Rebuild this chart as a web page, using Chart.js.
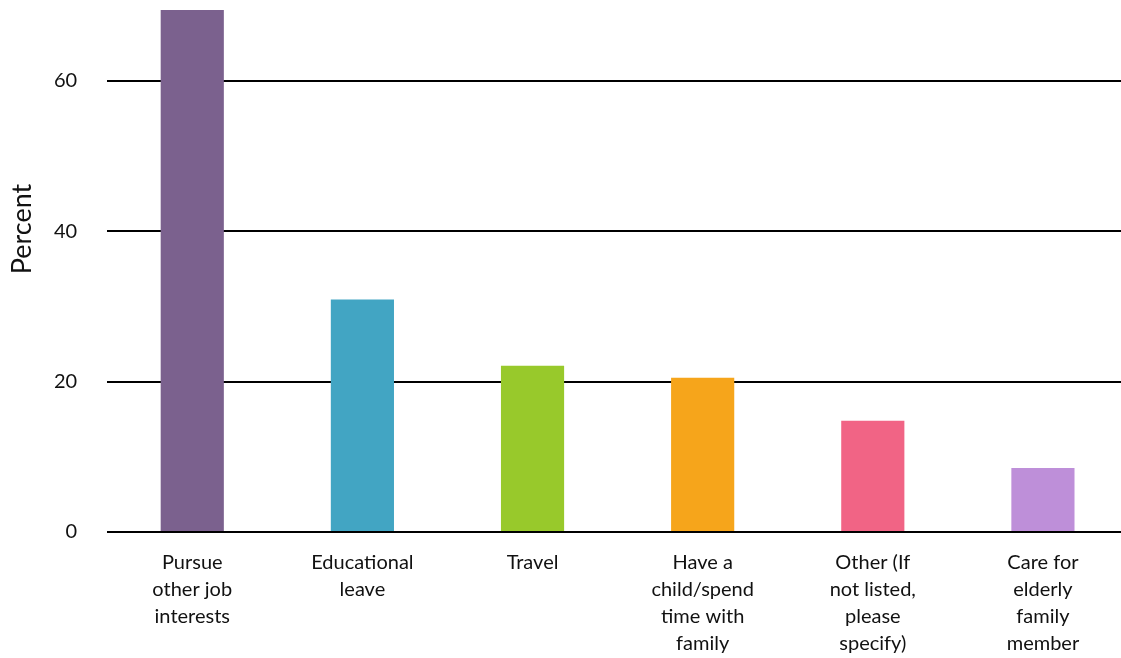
<!DOCTYPE html>
<html>
<head>
<meta charset="utf-8">
<script src="https://cdn.jsdelivr.net/npm/chart.js@4"></script>
<style>
html,body{margin:0;padding:0;background:#fff;overflow:hidden;}
#wrap{width:1121px;height:658px;position:relative;overflow:hidden;}
</style>
</head>
<body>
<div id="wrap"><canvas id="c" width="1128" height="658"></canvas></div>
<script>
const categories = [
  ["Pursue", "other job", "interests"],
  ["Educational", "leave"],
  ["Travel"],
  ["Have a", "child/spend", "time with", "family"],
  ["Other (If", "not listed,", "please", "specify)"],
  ["Care for", "elderly", "family", "member"]
];
const values = [69.4, 30.9, 22.1, 20.5, 14.8, 8.5];
const colors = ["#7B618E", "#42A5C3", "#98C92B", "#F6A51B", "#F16485", "#BE8FD9"];
const yTicks = [0, 20, 40, 60];
const yTitle = "Percent";

const titlePlugin = {
  id: 'ytitle',
  afterDraw(chart) {
    const ctx = chart.ctx;
    ctx.save();
    ctx.font = '27px Lato';
    ctx.fillStyle = '#111';
    ctx.textAlign = 'center';
    ctx.textBaseline = 'middle';
    ctx.translate(22, 229);
    ctx.rotate(-Math.PI / 2);
    ctx.fillText(yTitle, 0, 0);
    ctx.restore();
  }
};

new Chart(document.getElementById('c'), {
  type: 'bar',
  data: {
    labels: categories,
    datasets: [{
      data: values,
      backgroundColor: colors,
      borderWidth: 0,
      barPercentage: 0.75,
      categoryPercentage: 0.495
    }]
  },
  options: {
    responsive: false,
    animation: false,
    devicePixelRatio: 1,
    layout: { padding: { top: 10, left: 24, right: 0, bottom: 1 } },
    plugins: { legend: { display: false }, tooltip: { enabled: false } },
    scales: {
      x: {
        grid: { display: false, drawTicks: false },
        border: { display: false },
        afterFit(axis) { axis.height = 125; },
        ticks: {
          color: '#111',
          font: { family: 'Lato', size: 20, lineHeight: 1.35 },
          padding: 17,
          maxRotation: 0,
          autoSkip: false
        }
      },
      y: {
        min: 0,
        max: values[0],
        afterBuildTicks(axis) {
          axis.ticks = yTicks.map(v => ({ value: v }));
        },
        afterFit(axis) { axis.paddingTop = 0; axis.paddingBottom = 0; },
        grid: { color: '#000', lineWidth: 2, drawTicks: false },
        border: { display: false },
        ticks: {
          color: '#111',
          font: { family: 'Lato', size: 20 },
          padding: 30
        }
      }
    }
  },
  plugins: [titlePlugin]
});
</script>
</body>
</html>
